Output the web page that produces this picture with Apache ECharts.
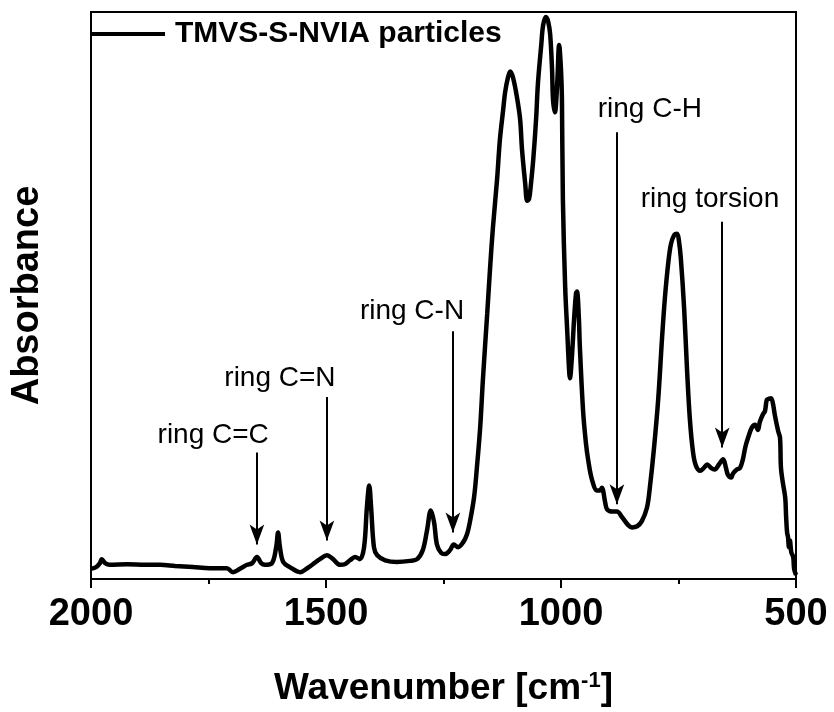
<!DOCTYPE html>
<html>
<head>
<meta charset="utf-8">
<script src="https://cdn.jsdelivr.net/npm/echarts@6/dist/echarts.min.js"></script>
<style>
  html, body { margin: 0; padding: 0; background: #fff; }
  #chart { width: 834px; height: 712px; }
</style>
</head>
<body>
<div id="chart"></div>
<script>
// FTIR spectrum, TMVS-S-NVIA particles
var wavenumber = [
  2000, 1989, 1981, 1977, 1970, 1960, 1923, 1885, 1853, 1821, 1783, 1747, 1711, 1698, 1683, 1668,
  1657, 1647, 1638, 1630, 1615, 1606, 1602, 1598, 1591, 1577, 1555, 1540, 1528, 1513, 1498, 1485,
  1470, 1460, 1449, 1438, 1428, 1419, 1413, 1408, 1404, 1398, 1391, 1374, 1349, 1321, 1306, 1294,
  1285, 1277, 1270, 1264, 1255, 1247, 1236, 1228, 1219, 1208, 1200, 1194, 1185, 1179, 1172, 1166,
  1157, 1151, 1145, 1136, 1130, 1123, 1119, 1113, 1108, 1102, 1094, 1087, 1083, 1076, 1072, 1068,
  1064, 1059, 1053, 1049, 1042, 1038, 1032, 1027, 1023, 1019, 1017, 1013, 1008, 1004, 1000, 998,
  996, 991, 987, 983, 981, 977, 972, 968, 966, 962, 960, 953, 947, 942, 934, 923,
  917, 913, 906, 902, 891, 881, 870, 857, 849, 838, 828, 817, 811, 802, 793, 785,
  779, 772, 766, 759, 753, 749, 745, 738, 732, 726, 719, 713, 704, 696, 689, 681,
  673, 664, 655, 649, 645, 638, 634, 626, 619, 613, 608, 602, 594, 587, 581, 577,
  570, 566, 562, 557, 553, 549, 545, 538, 534, 532, 528, 523, 521, 519, 517, 515,
  513, 510, 506, 504, 500
];
var absorbance = [
  0.018, 0.021, 0.028, 0.035, 0.028, 0.025, 0.026, 0.025, 0.025, 0.023, 0.021, 0.019, 0.019, 0.012, 0.018, 0.025,
  0.028, 0.039, 0.028, 0.025, 0.028, 0.056, 0.082, 0.056, 0.030, 0.021, 0.012, 0.019, 0.026, 0.035, 0.042, 0.035,
  0.025, 0.026, 0.033, 0.039, 0.035, 0.056, 0.126, 0.165, 0.126, 0.056, 0.042, 0.033, 0.030, 0.032, 0.035, 0.051,
  0.086, 0.121, 0.100, 0.061, 0.046, 0.044, 0.051, 0.061, 0.056, 0.065, 0.079, 0.100, 0.144, 0.196, 0.267, 0.354,
  0.468, 0.547, 0.618, 0.705, 0.775, 0.828, 0.858, 0.884, 0.895, 0.884, 0.851, 0.811, 0.758, 0.696, 0.667, 0.670,
  0.696, 0.740, 0.811, 0.875, 0.942, 0.977, 0.991, 0.982, 0.960, 0.898, 0.846, 0.823, 0.875, 0.942, 0.898, 0.846,
  0.670, 0.512, 0.442, 0.372, 0.354, 0.389, 0.460, 0.504, 0.507, 0.460, 0.412, 0.296, 0.240, 0.209, 0.175, 0.156,
  0.156, 0.161, 0.135, 0.123, 0.119, 0.119, 0.109, 0.095, 0.091, 0.093, 0.102, 0.126, 0.161, 0.232, 0.319, 0.425,
  0.495, 0.556, 0.591, 0.607, 0.609, 0.596, 0.565, 0.477, 0.372, 0.284, 0.223, 0.200, 0.191, 0.196, 0.202, 0.196,
  0.193, 0.202, 0.211, 0.196, 0.184, 0.179, 0.186, 0.193, 0.196, 0.211, 0.232, 0.249, 0.267, 0.272, 0.263, 0.277,
  0.291, 0.296, 0.316, 0.318, 0.319, 0.309, 0.289, 0.261, 0.249, 0.196, 0.170, 0.144, 0.109, 0.082, 0.074, 0.056,
  0.068, 0.047, 0.039, 0.018, 0.007
];
var xTicks = [500, 1000, 1500, 2000];

// band assignments: arrow position, arrow top/tip, label anchor
var bandNames = ['ring C=C', 'ring C=N', 'ring C-N', 'ring C-H', 'ring torsion'];
var bandWn = [1647, 1498, 1230, 881, 657];
var arrowTop = [0.223, 0.321, 0.437, 0.788, 0.630];
var arrowTip = [0.061, 0.068, 0.082, 0.132, 0.232];
var labelWn = [1740, 1598, 1317, 811, 683];
var labelY = [0.254, 0.354, 0.472, 0.828, 0.670];

var font = '"Liberation Sans", Arial, Helvetica, sans-serif';

var spectrum = wavenumber.map(function (w, i) { return [w, absorbance[i]]; });
var arrows = bandWn.map(function (w, i) {
  return [
    { coord: [w, arrowTop[i]], symbol: 'none' },
    { coord: [w, arrowTip[i]], symbol: 'arrow', symbolSize: [11, 20] }
  ];
});
var bandLabels = bandNames.map(function (n, i) {
  return { name: n, value: [labelWn[i], labelY[i]] };
});

var chart = echarts.init(document.getElementById('chart'), null, { renderer: 'canvas' });
chart.setOption({
  backgroundColor: '#fff',
  animation: false,
  textStyle: { fontFamily: font, color: '#000' },
  grid: {
    left: 91, right: 38, top: 12, bottom: 130,
    show: true, borderColor: '#000', borderWidth: 2, backgroundColor: 'transparent'
  },
  legend: {
    data: [{ name: 'TMVS-S-NVIA particles', icon: 'rect' }],
    left: 91, top: 19, padding: 0,
    itemWidth: 74, itemHeight: 4, itemGap: 10,
    itemStyle: { color: '#000', borderWidth: 0 },
    textStyle: { fontFamily: font, fontSize: 30, fontWeight: 'bold', color: '#000', padding: [0, 0, 0, 5] }
  },
  xAxis: {
    type: 'value', inverse: true, min: 500, max: 2000, interval: 500,
    name: 'Wavenumber [cm{sup|-1}]', nameLocation: 'middle', nameGap: 91,
    nameTextStyle: {
      fontFamily: font, fontSize: 37, fontWeight: 'bold', color: '#000',
      rich: { sup: { fontFamily: font, fontSize: 22, fontWeight: 'bold', color: '#000', verticalAlign: 'top', padding: [0, 0, 14, 0] } }
    },
    axisLine: { show: true, onZero: false, lineStyle: { color: '#000', width: 2 } },
    axisTick: { show: true, inside: false, length: 9, lineStyle: { color: '#000', width: 2 } },
    minorTick: { show: true, splitNumber: 2, length: 5, lineStyle: { color: '#000', width: 2 } },
    axisLabel: {
      margin: 17, fontFamily: font, fontSize: 38, fontWeight: 'bold', color: '#000',
      formatter: function (v) { return String(v); }
    },
    splitLine: { show: false }
  },
  yAxis: {
    type: 'value', min: 0, max: 1,
    name: 'Absorbance', nameLocation: 'middle', nameGap: 44,
    nameTextStyle: { fontFamily: font, fontSize: 38, fontWeight: 'bold', color: '#000' },
    axisLine: { show: true, lineStyle: { color: '#000', width: 2 } },
    axisTick: { show: false },
    axisLabel: { show: false },
    splitLine: { show: false }
  },
  series: [
    {
      name: 'TMVS-S-NVIA particles',
      type: 'line',
      data: spectrum,
      showSymbol: false, symbol: 'none',
      smooth: 0.35,
      lineStyle: { color: '#000', width: 4.5 },
      itemStyle: { color: '#000' },
      markLine: {
        silent: true,
        label: { show: false },
        lineStyle: { color: '#000', width: 2, type: 'solid' },
        data: arrows
      }
    },
    {
      name: 'bands',
      type: 'scatter',
      data: bandLabels,
      symbolSize: 0,
      itemStyle: { color: '#000', opacity: 1 },
      silent: true,
      label: {
        show: true, position: [0, 0], align: 'center', verticalAlign: 'middle',
        formatter: '{b}', fontFamily: font, fontSize: 28, color: '#000', opacity: 1,
        textBorderWidth: 0
      }
    }
  ]
});
</script>
</body>
</html>
